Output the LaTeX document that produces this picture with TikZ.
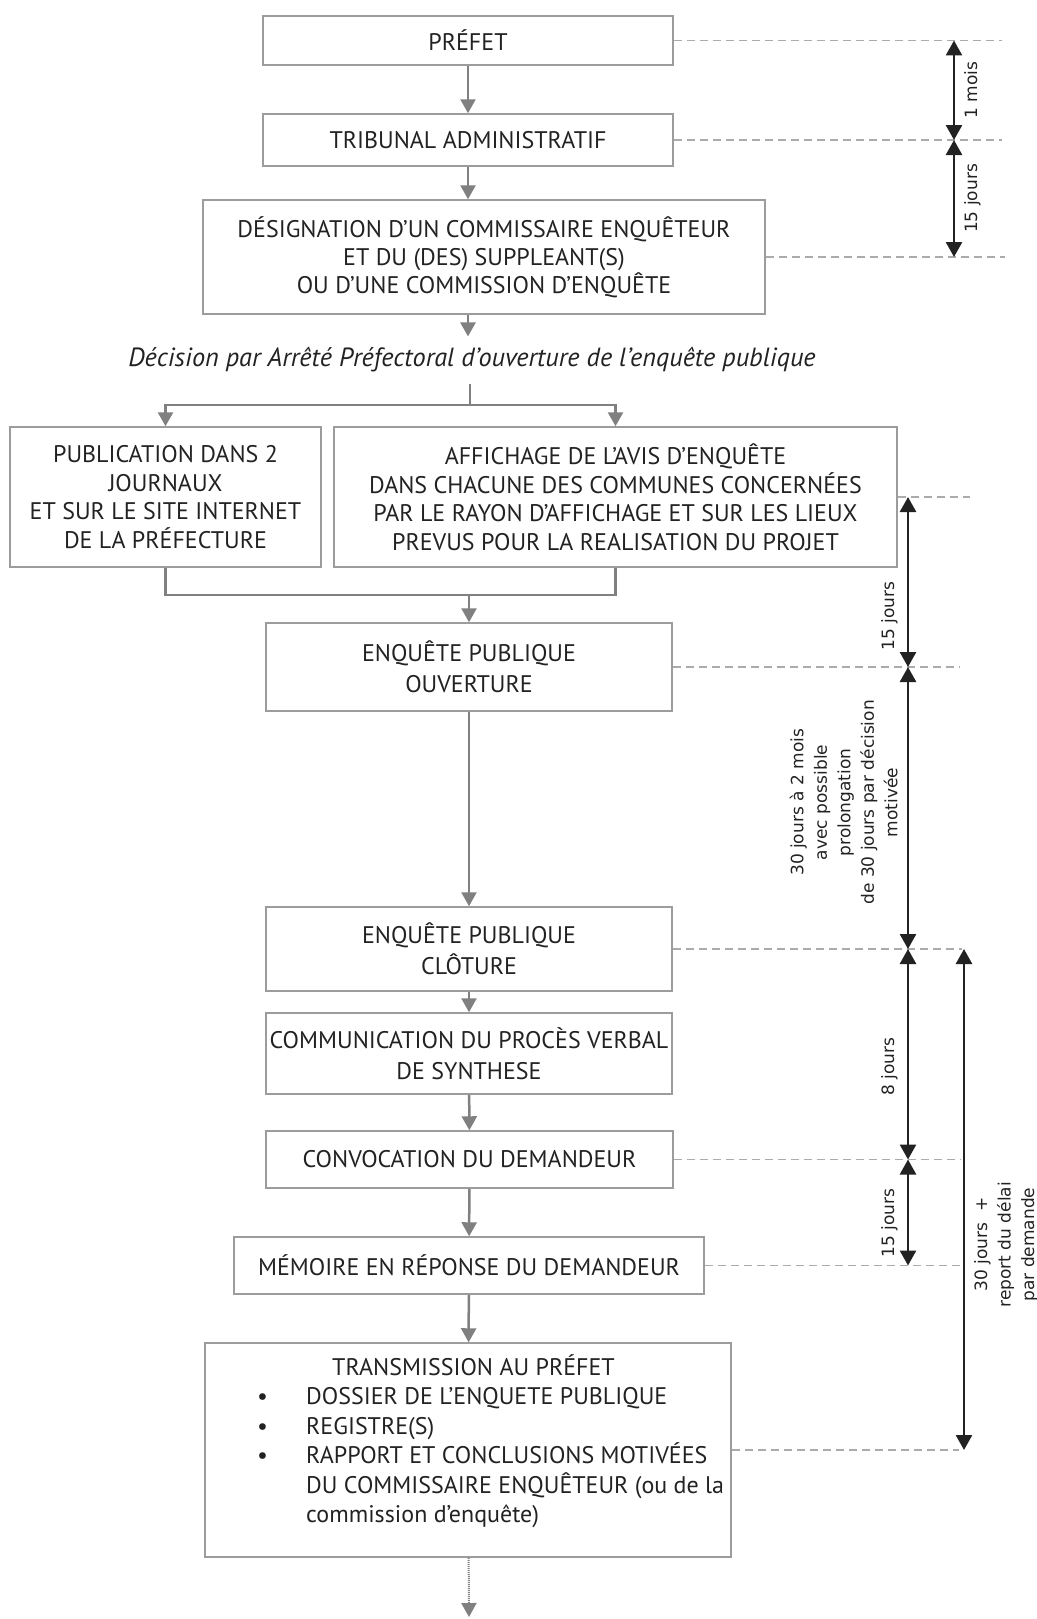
\documentclass[tikz,border=0pt]{standalone}
\usepackage{fontspec}
\setmainfont{PT Sans}
\newfontfamily\spanfont{DejaVu Sans}
\usetikzlibrary{positioning, arrows.meta, calc}
\definecolor{boxgray}{HTML}{9C9C9C}
\definecolor{flowgray}{HTML}{808080}
\definecolor{tiegray}{HTML}{ABABAB}
\definecolor{inkdark}{HTML}{222222}

\begin{document}
\begin{tikzpicture}[
                x=1pt, y=-1pt,
                font=\fontsize{24}{31}\selectfont,
                text=inkdark,
                box/.style={rectangle, draw=boxgray, line width=1.5pt, inner sep=0pt, align=center},
                flow/.style={draw=flowgray, line width=2.5pt, -{Triangle[width=15pt, length=14pt]}},
                joinline/.style={draw=flowgray, line width=2.5pt, line join=miter},
                tieline/.style={draw=tiegray, line width=1.8pt, dash pattern=on 8pt off 5pt},
                spanarrow/.style={draw=inkdark, line width=2.6pt, {Triangle[width=16pt, length=15pt]}-{Triangle[width=16pt, length=15pt]}},
                spanlabel/.style={font=\spanfont\fontsize{17}{23.5}\selectfont, rotate=90, align=center, inner sep=9pt},
            ]
                \useasboundingbox (0,0) rectangle (1036,1619);

                % Draw the steps of the procedure
                \node[box, minimum width=410pt, minimum height=49pt] (prefet) at (468,40.5) {PRÉFET};
                \node[box, minimum width=410pt, minimum height=52pt] (tribunal) at (468,140) {TRIBUNAL ADMINISTRATIF};
                \node[box, minimum width=562pt, minimum height=114pt, font=\fontsize{24}{28}\selectfont] (desig) at (484,257)
                    {DÉSIGNATION D’UN COMMISSAIRE ENQUÊTEUR\\ET DU (DES) SUPPLEANT(S)\\OU D’UNE COMMISSION D’ENQUÊTE};
                \node[font=\itshape\fontsize{26.3}{30}\selectfont, inner ysep=11pt] (decision) at (472,360)
                    {Décision par Arrêté Préfectoral d’ouverture de l’enquête publique};
                \node[box, minimum width=311pt, minimum height=140pt, font=\fontsize{24}{28.5}\selectfont] (publi) at (165.5,497)
                    {PUBLICATION DANS 2\\JOURNAUX\\ET SUR LE SITE INTERNET\\DE LA PRÉFECTURE};
                \node[box, minimum width=563pt, minimum height=140pt, font=\fontsize{24}{28.5}\selectfont] (affich) at (615.5,497)
                    {AFFICHAGE DE L’AVIS D’ENQUÊTE\\DANS CHACUNE DES COMMUNES CONCERNÉES\\PAR LE RAYON D'AFFICHAGE ET SUR LES LIEUX\\PREVUS POUR LA REALISATION DU PROJET};
                \node[box, minimum width=406pt, minimum height=88pt] (ouvert) at (469,667) {ENQUÊTE PUBLIQUE\\OUVERTURE};
                \node[box, minimum width=406pt, minimum height=84pt] (cloture) at (469,949) {ENQUÊTE PUBLIQUE\\CLÔTURE};
                \node[box, minimum width=406pt, minimum height=81pt] (commun) at (469,1053.5) {COMMUNICATION DU PROCÈS VERBAL\\DE SYNTHESE};
                \node[box, minimum width=407pt, minimum height=57pt] (convoc) at (469.5,1159.5) {CONVOCATION DU DEMANDEUR};
                \node[box, minimum width=470pt, minimum height=57pt] (memoire) at (469,1265.5) {MÉMOIRE EN RÉPONSE DU DEMANDEUR};
                \node[box, minimum width=526pt, minimum height=214pt] (transm) at (468,1450) {};
                \node[anchor=north west, align=left, inner sep=0pt, font=\fontsize{24}{29.5}\selectfont] (transtxt) at (257,1354)
                    {\hspace*{75pt}TRANSMISSION AU PRÉFET\\
                     \makebox[49pt][l]{\textbullet}DOSSIER DE L’ENQUETE PUBLIQUE\\
                     \makebox[49pt][l]{\textbullet}REGISTRE(S)\\
                     \makebox[49pt][l]{\textbullet}RAPPORT ET CONCLUSIONS MOTIVÉES\\
                     \hspace*{49pt}DU COMMISSAIRE ENQUÊTEUR (ou de la\\
                     \hspace*{49pt}commission d’enquête)};

                % Connect the steps
                \coordinate (split) at (470,405);
                \coordinate (merge) at (469,595);
                \coordinate (fin) at (469,1617);
                \draw[flow] (prefet) -- (tribunal);
                \draw[flow] (tribunal.south) -- (tribunal.south |- desig.north);
                \draw[flow] (tribunal.south |- desig.south) -- (tribunal.south |- decision.north);
                \draw[joinline] (decision.south -| split) -- (split);
                \draw[flow] (split) -| (publi);
                \draw[flow] (split) -| (affich);
                \draw[joinline] (publi) |- (merge);
                \draw[joinline] (affich) |- (merge);
                \draw[flow] (merge) -- (ouvert);
                \foreach \source/\dest in {ouvert/cloture, cloture/commun, commun/convoc, convoc/memoire, memoire/transm}
                    \draw[flow] (\source) -- (\dest);
                \draw[flow, line width=2pt, dash pattern=on 1.2pt off 0.8pt] (transm) -- (fin);

                % Dashed guides towards the time scale
                \foreach \nm/\xend in {prefet/1002, tribunal/1002, desig/1005, affich/970, ouvert/959, cloture/962, convoc/960, memoire/963, transm/959}
                {
                    \coordinate (\nm-end) at (\nm -| \xend,0);
                    \draw[tieline] (\nm) -- (\nm-end);
                }

                % Time scale
                \foreach \nm/\xs in {prefet/954, tribunal/954, desig/954, affich/908, ouvert/908, cloture/908, convoc/908, memoire/908}
                    \coordinate (m-\nm) at (\nm -| \xs,0);
                \coordinate (l-cloture) at (cloture -| 964,0);
                \coordinate (l-transm) at (transm -| 964,0);

                \draw[spanarrow] (m-prefet) -- (m-tribunal) node[spanlabel, midway, anchor=north] {1 mois};
                \draw[spanarrow] (m-tribunal) -- (m-desig) node[spanlabel, midway, anchor=north] {15 jours};
                \draw[spanarrow] (m-affich) -- (m-ouvert) node[spanlabel, pos=0.7, anchor=south] {15 jours};
                \draw[spanarrow] (m-ouvert) -- (m-cloture) node[spanlabel, pos=0.48, anchor=south]
                    {30 jours à 2 mois\\avec possible\\prolongation\\de 30 jours par décision\\motivée};
                \draw[spanarrow] (m-cloture) -- (m-convoc) node[spanlabel, pos=0.56, anchor=south] {8 jours};
                \draw[spanarrow] (m-convoc) -- (m-memoire) node[spanlabel, pos=0.6, anchor=south] {15 jours};
                \draw[spanarrow] (l-cloture) -- (l-transm) node[spanlabel, pos=0.59, anchor=north]
                    {30 jours \ +\\report du délai\\par demande};
            \end{tikzpicture}
\end{document}
